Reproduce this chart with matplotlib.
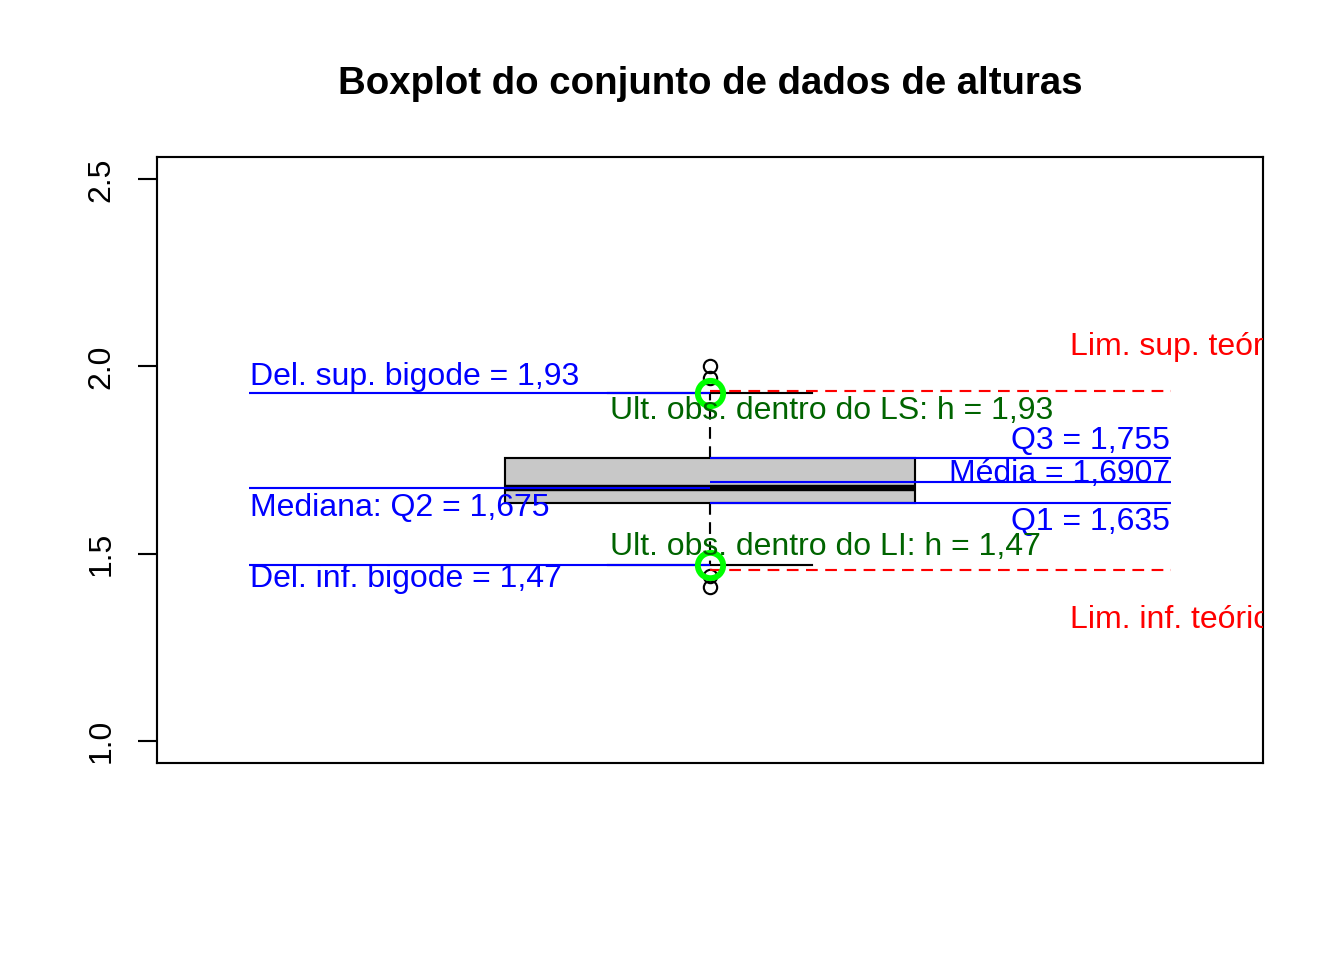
import matplotlib
matplotlib.use("Agg")
import matplotlib.pyplot as plt

plt.rcParams['font.family'] = ['Liberation Sans', 'DejaVu Sans']

# resumo do conjunto de alturas
q1 = 1.635
mediana = 1.675
q3 = 1.755
media = 1.6907
bigode_inf = 1.47
bigode_sup = 1.93
outliers = [1.41, 1.44, 1.97, 2.00]
lim_inf = 1.455
lim_sup = 1.935

yticks = [1.0, 1.5, 2.0, 2.5]
ytick_labels = ["1.0", "1.5", "2.0", "2.5"]

azul = "#0000FF"
verde_esc = "#006400"
vermelho = "#FF0000"

fig = plt.figure(figsize=(7, 5), dpi=192)
ax = fig.add_axes([157 / 1344, 1 - 763 / 960, (1263 - 157) / 1344, (763 - 157) / 960])

tracejado = (0, (5.5, 3.5))

stats = [dict(med=mediana, q1=q1, q3=q3, whislo=bigode_inf, whishi=bigode_sup,
              fliers=outliers, label="")]
ax.bxp(stats, positions=[1], widths=0.4, capwidths=0.2, patch_artist=True,
       boxprops=dict(facecolor="#C8C8C8", edgecolor="black", linewidth=0.8),
       medianprops=dict(color="black", linewidth=2.4, solid_capstyle="butt"),
       whiskerprops=dict(color="black", linewidth=0.8, linestyle=tracejado),
       capprops=dict(color="black", linewidth=0.8),
       flierprops=dict(marker="o", markerfacecolor="none", markeredgecolor="black",
                       markersize=5, markeredgewidth=0.8),
       manage_ticks=False)

# linhas de referencia
lw = 0.8
ax.hlines([bigode_sup, mediana, bigode_inf], 0.55, 1.0, color=azul, lw=lw, zorder=4)
ax.hlines([q3, media, q1], 1.0, 1.45, color=azul, lw=lw, zorder=4)
ax.hlines([lim_sup, lim_inf], 1.0, 1.45, color=vermelho, lw=lw,
          linestyle=tracejado, zorder=4)

# ultimas observacoes dentro dos limites
ax.plot([1, 1], [bigode_sup, bigode_inf], linestyle="none", marker="o",
        markerfacecolor="none", markeredgecolor="#00FF00", markersize=9.5,
        markeredgewidth=2.2, zorder=5)

def rotulo(x, y, texto, cor, dy, ha="left"):
    ax.annotate(texto, xy=(x, y), xytext=(0, dy), textcoords="offset points",
                ha=ha, va="baseline", color=cor, fontsize=12, zorder=6,
                annotation_clip=False, clip_on=True)

rotulo(0.551, bigode_sup, "Del. sup. bigode = 1,93", azul, 2.7)
rotulo(0.551, mediana, "Mediana: Q2 = 1,675", azul, -10.6)
rotulo(0.551, bigode_inf, "Del. inf. bigode = 1,47", azul, -8.5)
rotulo(1.449, q3, "Q3 = 1,755", azul, 3.5, ha="right")
rotulo(1.449, media, "Média = 1,6907", azul, 0.2, ha="right")
rotulo(1.449, q1, "Q1 = 1,635", azul, -10.2, ha="right")
rotulo(0.902, bigode_sup, "Ult. obs. dentro do LS: h = 1,93", verde_esc, -10.0)
rotulo(0.902, bigode_inf, "Ult. obs. dentro do LI: h = 1,47", verde_esc, 3.8)
rotulo(1.352, lim_sup, "Lim. sup. teórico = 1,935", vermelho, 13.6)
rotulo(1.352, lim_inf, "Lim. inf. teórico = 1,455", vermelho, -21.8)

ax.set_xlim(0.46, 1.54)
ax.set_ylim(0.94, 2.56)
ax.set_xticks([])
ax.set_yticks(yticks)
ax.set_yticklabels(ytick_labels, rotation=90, va="center", fontsize=12)
ax.tick_params(axis="y", length=7.2, width=0.8, pad=8)
for s in ax.spines.values():
    s.set_linewidth(0.8)

ax.set_title("Boxplot do conjunto de dados de alturas", fontsize=14.4,
             fontweight="bold", pad=23.6)

fig.savefig("out.png", dpi=192)
